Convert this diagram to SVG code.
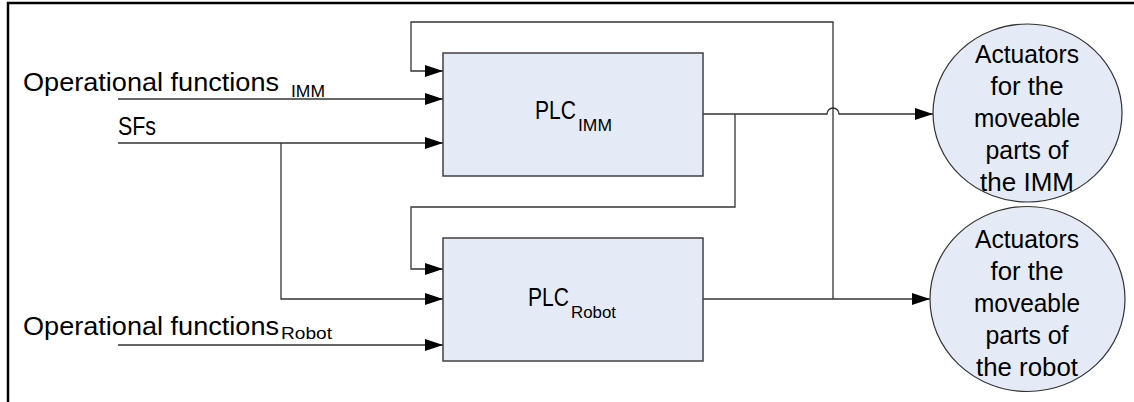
<svg xmlns="http://www.w3.org/2000/svg" width="1134" height="402" viewBox="0 0 1134 402">
<style>
.t{font-family:"Liberation Sans",Arial,sans-serif;fill:#000}
.c{fill:none;stroke:#333;stroke-width:1.3}
.box{fill:#e5ebf6;stroke:#404040;stroke-width:1.5}
.act{fill:#e5ebf6;stroke:#333;stroke-width:1.2}
</style>
<defs>
<marker id="ah" markerUnits="userSpaceOnUse" markerWidth="18" markerHeight="12" refX="18" refY="6" orient="auto">
<path d="M0,0 L18,6 L0,12 Z" fill="#000"/>
</marker>
</defs>
<rect width="1134" height="402" fill="#fff"/>
<g id="frame">
<path d="M8,402 V3 H1134" fill="none" stroke="#000" stroke-width="2.5"/>
</g>
<g id="connectors">
<path class="c" d="M118,99 H443" marker-end="url(#ah)"/>
<path class="c" d="M118,143 H443" marker-end="url(#ah)"/>
<path class="c" d="M281,143 V299 H443" marker-end="url(#ah)"/>
<path class="c" d="M118,345 H443" marker-end="url(#ah)"/>
<path class="c" d="M703,114 H827 A6,6 0 0 1 839,114 H933" marker-end="url(#ah)"/>
<path class="c" d="M735,114 V207 H411 V269 H443" marker-end="url(#ah)"/>
<path class="c" d="M703,299 H930" marker-end="url(#ah)"/>
<path class="c" d="M833,299 V22 H411 V71 H443" marker-end="url(#ah)"/>
</g>
<g id="label-op-imm">
<text class="t" x="23" y="91" font-size="26" textLength="256" lengthAdjust="spacingAndGlyphs">Operational functions</text>
<text class="t" x="291" y="97" font-size="17" textLength="34" lengthAdjust="spacingAndGlyphs">IMM</text>
</g>
<g id="label-sfs">
<text class="t" x="118" y="135" font-size="26" textLength="38" lengthAdjust="spacingAndGlyphs">SFs</text>
</g>
<g id="label-op-robot">
<text class="t" x="23" y="335" font-size="26" textLength="256" lengthAdjust="spacingAndGlyphs">Operational functions</text>
<text class="t" x="281" y="339" font-size="17" textLength="51" lengthAdjust="spacingAndGlyphs">Robot</text>
</g>
<g id="plc-imm">
<rect class="box" x="443" y="53" width="260" height="123"/>
<text class="t" x="535" y="119" font-size="25" textLength="41" lengthAdjust="spacingAndGlyphs">PLC</text>
<text class="t" x="578" y="131" font-size="17" textLength="34" lengthAdjust="spacingAndGlyphs">IMM</text>
</g>
<g id="plc-robot">
<rect class="box" x="443" y="238" width="260" height="123"/>
<text class="t" x="528" y="306" font-size="25" textLength="41" lengthAdjust="spacingAndGlyphs">PLC</text>
<text class="t" x="571" y="318" font-size="17" textLength="45" lengthAdjust="spacingAndGlyphs">Robot</text>
</g>
<g id="actuators-imm">
<ellipse class="act" cx="1027.5" cy="113" rx="94.5" ry="89"/>
<g class="t" font-size="25" text-anchor="middle" lengthAdjust="spacingAndGlyphs">
<text x="1027" y="63" textLength="104" lengthAdjust="spacingAndGlyphs">Actuators</text>
<text x="1027" y="95" textLength="73" lengthAdjust="spacingAndGlyphs">for the</text>
<text x="1027" y="127" textLength="106" lengthAdjust="spacingAndGlyphs">moveable</text>
<text x="1027" y="159" textLength="83" lengthAdjust="spacingAndGlyphs">parts of</text>
<text x="1027" y="191" textLength="94" lengthAdjust="spacingAndGlyphs">the IMM</text>
</g>
</g>
<g id="actuators-robot">
<ellipse class="act" cx="1027.5" cy="299" rx="97.5" ry="92.5"/>
<g class="t" font-size="25" text-anchor="middle">
<text x="1027" y="248" textLength="104" lengthAdjust="spacingAndGlyphs">Actuators</text>
<text x="1027" y="280" textLength="73" lengthAdjust="spacingAndGlyphs">for the</text>
<text x="1027" y="312" textLength="106" lengthAdjust="spacingAndGlyphs">moveable</text>
<text x="1027" y="344" textLength="83" lengthAdjust="spacingAndGlyphs">parts of</text>
<text x="1027" y="376" textLength="102" lengthAdjust="spacingAndGlyphs">the robot</text>
</g>
</g>
</svg>
